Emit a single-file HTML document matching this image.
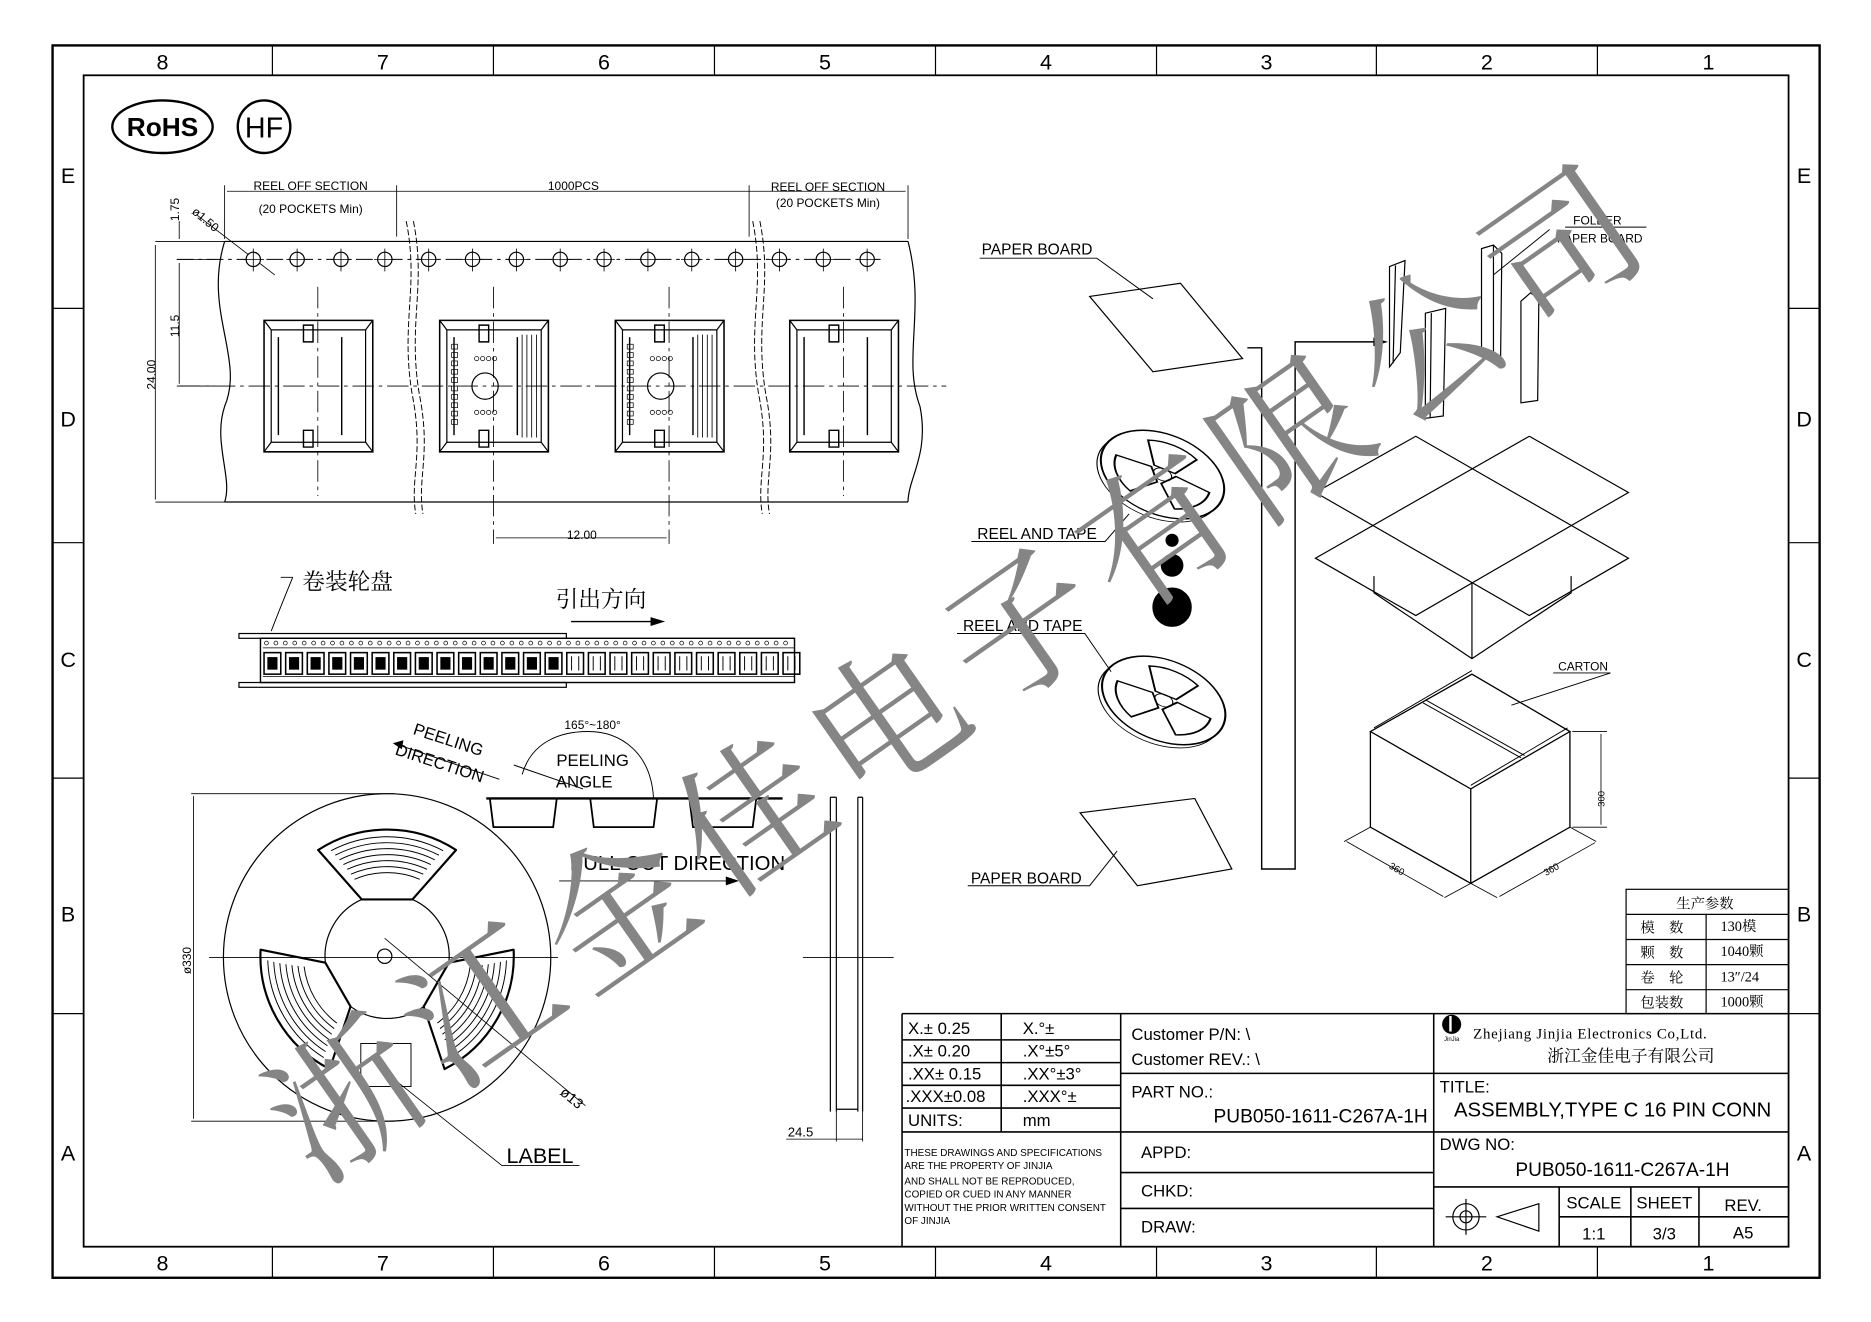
<!DOCTYPE html>
<html><head><meta charset="utf-8"><style>
html,body{margin:0;padding:0;background:#fff}
svg{display:block}
text{font-family:"Liberation Sans","Noto Sans CJK SC",sans-serif;fill:#000}
.cn{font-family:"Liberation Serif","Noto Serif CJK SC",serif}
text.wm{fill:#858585;font-family:"Noto Serif CJK SC","Noto Sans CJK SC",serif;font-weight:400}
</style></head><body>
<svg id="s" width="1871" height="1322" viewBox="0 0 1566 1106" preserveAspectRatio="none" xmlns="http://www.w3.org/2000/svg">
<g fill="none" stroke="#000" stroke-width="1">
<rect x="44" y="38" width="1479" height="1031" stroke-width="2"/>
<rect x="70" y="63" width="1427" height="980" stroke-width="1.5"/>
<g id="divs"></g>
<ellipse cx="136" cy="106" rx="42" ry="22" stroke-width="2"/>
<circle cx="221" cy="106" r="22" stroke-width="2"/>

<path d="M188,202 H760 M188,420 H760"/>
<path d="M188,202 C170,260 205,300 188,340 C178,370 195,400 188,420"/>
<path d="M760,202 C775,260 755,300 770,340 C778,380 760,400 760,420"/>
<path d="M130,202 H188 M130,420 H188 M148,217 H180 M148,323 H180" stroke-width="0.7"/>
<path d="M130,205 V418 M150,220 V321 M150,185 V200" stroke-width="0.7"/>
<path d="M188,155 V200 M332,155 V198 M627,155 V198 M760,155 V200 M190,160 H758" stroke-width="0.7"/>
<path d="M148,217 H740" stroke-dasharray="14,4,3,4" stroke-width="0.8"/>
<path d="M150,323 H792" stroke-dasharray="18,4,3,4" stroke-width="0.8"/>
<path d="M266,240 V415 M413,240 V455 M560,240 V455 M706,240 V415" stroke-dasharray="18,4,3,4" stroke-width="0.7"/>
<path d="M415,450 H558" stroke-width="0.7"/>
<path d="M165,180 L230,230" stroke-width="0.7"/>
<g id="holes"></g>
<g id="comps"></g>
<g stroke-width="0.8">
<path d="M340,185 C351,240 335,270 345,330 C355,380 343,400 348,430" stroke-dasharray="5,2"/>
<path d="M346,185 C357,240 341,270 351,330 C361,380 349,400 354,430" stroke-dasharray="5,2"/>
<path d="M630,185 C641,240 625,270 635,330 C645,380 633,400 638,430" stroke-dasharray="5,2"/>
<path d="M636,185 C647,240 631,270 641,330 C651,380 639,400 644,430" stroke-dasharray="5,2"/>
</g>

<rect x="200" y="530" width="274" height="4"/>
<rect x="200" y="571" width="274" height="4"/>
<rect x="218" y="534" width="447" height="37" stroke-width="1.2"/>
<path d="M220,542 H665 M220,566 H665" stroke-width="0.6"/>
<g id="strip"></g>
<path d="M235,483 H245 M245,483 C238,500 232,515 227,528" stroke-width="0.8"/>
<path d="M478,520 H545" stroke-width="1.2"/>
<path d="M545,517 L555,520 L545,523 Z" fill="#000"/>

<path d="M330,622 L418,652" stroke-width="0.8"/>
<path d="M330,622 L337,620 L336,626 Z" fill="#000"/>
<path d="M430,640 L488,660" stroke-width="0.8"/>
<path d="M437,648 C445,620 470,612 492,612 C520,612 545,630 547,668" stroke-width="0.8"/>
<path d="M407,668 H655" stroke-width="2"/>
<path d="M410,668 L413,692 H463 L466,668 M494,668 L497,692 H547 L550,668 M577,668 L580,692 H630 L633,668" stroke-width="1.5"/>
<path d="M468,737 H615" stroke-width="0.8"/>
<path d="M608,734 L617,737 L608,740 Z" fill="#000"/>

<circle cx="324" cy="801" r="137"/>
<path d="M160,664 H330 M160,938 H330 M162,666 V936" stroke-width="0.7"/>
<path d="M175,801 H467" stroke-width="0.7"/>
<g id="reel"></g>
<rect x="302" y="873" width="42" height="36" stroke-width="0.8"/>
<path d="M322,785 L490,925 M320,895 L420,975 H485" stroke-width="0.7"/>
<circle cx="322" cy="800" r="6"/>
<path d="M695,667 V930 M700,667 V930 M718,667 V930 M722,667 V930 M695,667 H700 M718,667 H722 M700,928 H718" stroke-width="1"/>
<path d="M672,801 H748" stroke-width="0.7"/>
<path d="M658,953 H722 M700,930 V955 M722,930 V955" stroke-width="0.7"/>

<polygon points="912,248 988,237 1040,300 965,311"/>
<path d="M820,216 H918 L965,250" stroke-width="0.8"/>
<g id="reels3d"></g>
<circle cx="981" cy="452" r="5" fill="#000"/>
<circle cx="981" cy="473" r="9" fill="#000"/>
<circle cx="981" cy="508" r="16" fill="#000"/>
<path d="M813,453 H925 L945,430" stroke-width="0.8"/>
<path d="M801,530 H908 L930,562" stroke-width="0.8"/>
<polygon points="904,680 1000,668 1031,727 952,741"/>
<path d="M810,741 H912 L935,712" stroke-width="0.8"/>
<path d="M1044,291 H1056 V727 H1084 V286 H1155" stroke-width="1.2"/>
<path d="M1150,283 L1160,286 L1150,289 Z" fill="#000"/>
<polygon points="1163,223 1176,218 1172,295 1163,307"/>
<path d="M1168,222 L1166,304"/>
<polygon points="1193,262 1210,258 1208,348 1193,350"/>
<path d="M1198,262 L1197,349"/>
<polygon points="1240,208 1250,205 1257,212 1256,298 1240,292"/>
<path d="M1250,205 L1250,296"/>
<polygon points="1273,252 1281,245 1288,250 1287,335 1273,337"/>
<path d="M1310,190 H1378 M1297,192 L1250,230" stroke-width="0.8"/>
<path d="M1101,412 L1185,365 L1363,467 L1280,515 L1101,412 M1280,365 L1363,412 L1185,515 L1101,467 L1280,365" stroke-width="1"/>
<path d="M1150,482 V496 L1232,551 L1315,496 V482 M1232,488 V551" stroke-width="1"/>
<path d="M1147,612 L1232,564 L1314,612 L1231,660 Z M1147,612 V692 L1231,739 L1314,692 V612 M1231,660 V739" stroke-width="1.1"/>
<path d="M1191,588 L1273,634 M1194,586 L1276,632 M1231,657 L1312,609 M1150,609 L1232,561" stroke-width="0.8"/>
<path d="M1300,563 H1348 L1265,590" stroke-width="0.8"/>
<path d="M1316,612 H1345 M1316,692 H1345 M1340,614 V690 M1147,692 L1125,704 M1231,739 L1209,751 M1127,704 L1208,750 M1231,739 L1253,751 M1314,692 L1336,704 M1255,750 L1335,705" stroke-width="0.7"/>

<rect x="1361" y="744" width="136" height="104"/>
<path d="M1361,765 H1497 M1361,786 H1497 M1361,807 H1497 M1361,828 H1497 M1428,765 V848"/>

<g stroke-width="1.3">
<path d="M755,848 H1497 M755,848 V1043 M838,848 V947 M938,848 V1043 M1200,848 V1043"/>
<path d="M755,870 H938 M755,889 H938 M755,908 H938 M755,927 H938 M755,947 H1497 M938,898 H1497 M938,981 H1200 M938,1011 H1200 M1200,993 H1497 M1305,993 V1043 M1365,993 V1043 M1422,993 V1043 M1305,1018 H1497"/>
</g>
<circle cx="1227" cy="1018" r="11"/><circle cx="1227" cy="1018" r="5"/>
<path d="M1210,1018 H1244 M1227,1003 V1033 M1253,1018 L1288,1007 V1030 Z"/>
</g>

<text x="136" y="114" font-size="22" font-weight="bold" text-anchor="middle">RoHS</text>
<text x="221" y="115" font-size="24" text-anchor="middle">HF</text>
<g font-size="10">
<text x="260" y="159" text-anchor="middle">REEL  OFF  SECTION</text>
<text x="260" y="178" text-anchor="middle">(20  POCKETS  Min)</text>
<text x="480" y="159" text-anchor="middle">1000PCS</text>
<text x="693" y="160" text-anchor="middle">REEL  OFF  SECTION</text>
<text x="693" y="173" text-anchor="middle">(20  POCKETS  Min)</text>
<text x="487" y="451" text-anchor="middle">12.00</text>
<text transform="translate(150,185) rotate(-90)">1.75</text>
<text transform="translate(150,282) rotate(-90)">11.5</text>
<text transform="translate(130,326) rotate(-90)">24.00</text>
<text transform="translate(160,178) rotate(40)">ø1.50</text>
<text transform="translate(160,815) rotate(-90)">ø330</text>
<text transform="translate(468,915) rotate(40)" font-size="12">ø13</text>
<text x="670" y="951" font-size="11" text-anchor="middle">24.5</text>
<text x="1325" y="561" text-anchor="middle">CARTON</text>
<text x="1337" y="188" text-anchor="middle">FOLDER</text>
<text x="1339" y="203" text-anchor="middle">PAPER  BOARD</text>
<text transform="translate(1343,675) rotate(-90)" font-size="8">300</text>
<text transform="translate(1162,726) rotate(30)" font-size="8">360</text>
<text transform="translate(1294,733) rotate(-30)" font-size="8">360</text>
</g>
<g font-size="13">
<text x="868" y="213" text-anchor="middle">PAPER  BOARD</text>
<text x="868" y="451" text-anchor="middle">REEL  AND  TAPE</text>
<text x="856" y="528" text-anchor="middle">REEL  AND  TAPE</text>
<text x="859" y="739" text-anchor="middle">PAPER  BOARD</text>
<text x="567" y="728" font-size="17" text-anchor="middle">PULL  OUT  DIRECTION</text>
<text x="496" y="641" font-size="14" text-anchor="middle">PEELING</text>
<text x="489" y="659" font-size="14" text-anchor="middle">ANGLE</text>
<text transform="translate(345,614) rotate(18)" font-size="14">PEELING</text>
<text transform="translate(330,631) rotate(18)" font-size="14">DIRECTION</text>
<text x="496" y="610" font-size="10" text-anchor="middle">165°~180°</text>
<text x="452" y="973" font-size="18" text-anchor="middle">LABEL</text>
</g>
<text x="253" y="493" font-size="19" class="cn">卷装轮盘</text>
<text x="465" y="508" font-size="19" class="cn">引出方向</text>

<g font-size="14">
<text x="760" y="865">X.± 0.25</text><text x="856" y="865">X.°±</text>
<text x="760" y="884">.X± 0.20</text><text x="856" y="884">.X°±5°</text>
<text x="760" y="903">.XX± 0.15</text><text x="856" y="903">.XX°±3°</text>
<text x="758" y="922">.XXX±0.08</text><text x="856" y="922">.XXX°±</text>
<text x="760" y="942">UNITS:</text><text x="856" y="942">mm</text>
<text x="947" y="870">Customer P/N: \</text>
<text x="947" y="891">Customer REV.: \</text>
<text x="947" y="918">PART NO.:</text>
<text x="1195" y="939" font-size="16" text-anchor="end">PUB050-1611-C267A-1H</text>
<text x="955" y="969">APPD:</text>
<text x="955" y="1001">CHKD:</text>
<text x="955" y="1031">DRAW:</text>
<text x="1205" y="914">TITLE:</text>
<text x="1217" y="934" font-size="17">ASSEMBLY,TYPE C 16 PIN CONN</text>
<text x="1205" y="962">DWG NO:</text>
<text x="1358" y="984" font-size="16" text-anchor="middle">PUB050-1611-C267A-1H</text>
<text x="1334" y="1011" text-anchor="middle">SCALE</text>
<text x="1393" y="1011" text-anchor="middle">SHEET</text>
<text x="1459" y="1013" text-anchor="middle">REV.</text>
<text x="1334" y="1037" text-anchor="middle">1:1</text>
<text x="1393" y="1037" text-anchor="middle">3/3</text>
<text x="1459" y="1036" text-anchor="middle">A5</text>
</g>
<g font-size="8.3">
<text x="757" y="967">THESE DRAWINGS AND SPECIFICATIONS</text>
<text x="757" y="978">ARE THE PROPERTY OF JINJIA</text>
<text x="757" y="991">AND SHALL NOT BE REPRODUCED,</text>
<text x="757" y="1002">COPIED OR CUED IN ANY MANNER</text>
<text x="757" y="1013">WITHOUT THE PRIOR WRITTEN CONSENT</text>
<text x="757" y="1024">OF JINJIA</text>
</g>
<circle cx="1215" cy="857" r="8" fill="#000"/><rect x="1213" y="850" width="2" height="13" fill="#fff"/>
<text x="1215" y="871" font-size="5" text-anchor="middle">JinJia</text>
<text x="1233" y="869" font-size="12.5" style="font-family:'Liberation Serif','Noto Serif CJK SC',serif;letter-spacing:0.6px">Zhejiang Jinjia Electronics Co,Ltd.</text>
<text x="1365" y="888" font-size="14" class="cn" text-anchor="middle">浙江金佳电子有限公司</text>
<g font-size="12">
<text x="1427" y="760" text-anchor="middle" class="cn">生产参数</text>
<text x="1373" y="780" class="cn">模　数</text><text x="1440" y="779" class="cn">130模</text>
<text x="1373" y="801" class="cn">颗　数</text><text x="1440" y="800" class="cn">1040颗</text>
<text x="1373" y="822" class="cn">卷　轮</text><text x="1440" y="821" class="cn">13″/24</text>
<text x="1373" y="843" class="cn">包装数</text><text x="1440" y="842" class="cn">1000颗</text>
</g>
<g id="labels" font-size="18"></g>
<g id="wm"></g>
</svg>
<script>
var NS="http://www.w3.org/2000/svg";
function el(p,t,a,txt){var e=document.createElementNS(NS,t);for(var k in a)e.setAttribute(k,a[k]);if(txt)e.textContent=txt;document.getElementById(p).appendChild(e);return e;}
var xs=[44,228,413,598,783,968,1152,1337,1523];
for(var i=1;i<8;i++){el("divs","path",{d:"M"+xs[i]+",38 V63 M"+xs[i]+",1043 V1069"});}
for(var i=0;i<8;i++){var cx=(xs[i]+xs[i+1])/2;el("labels","text",{x:cx,y:58,"text-anchor":"middle"},String(8-i));el("labels","text",{x:cx,y:1063,"text-anchor":"middle"},String(8-i));}
var ys=[63,258,454,651,848,1043],L=["E","D","C","B","A"];
for(var i=1;i<5;i++){el("divs","path",{d:"M44,"+ys[i]+" H70 M1497,"+ys[i]+" H1523"});}
var ly=[153,357,558,771,971];
for(var i=0;i<5;i++){el("labels","text",{x:57,y:ly[i],"text-anchor":"middle"},L[i]);el("labels","text",{x:1510,y:ly[i],"text-anchor":"middle"},L[i]);}
for(var i=0;i<15;i++){var x=212+i*36.7;el("holes","circle",{cx:x,cy:217,r:6,fill:"#fff"});el("holes","path",{d:"M"+x+",208 V227 M"+(x-9)+",217 H"+(x+9),"stroke-width":"0.7"});}
[266,413,560,706].forEach(function(c,i){var g="comps";var x0=c-45,x1=c+46;
el(g,"path",{d:"M"+x0+",268 H"+x1+" V378 H"+x0+" Z","stroke-width":"1.3"});
el(g,"path",{d:"M"+(x0+6)+",276 H"+(x1-6)+" V370 H"+(x0+6)+" Z M"+x0+",268 L"+(x0+6)+",276 M"+x1+",268 L"+(x1-6)+",276 M"+x0+",378 L"+(x0+6)+",370 M"+x1+",378 L"+(x1-6)+",370","stroke-width":"1"});
el(g,"path",{d:"M"+(x0+12)+",282 V364 M"+(x1-26)+",282 V364 M"+(c-12)+",272 h8 v14 h-8 Z M"+(c-12)+",360 h8 v14 h-8 Z","stroke-width":"1.2"});
if(i==1||i==2){el(g,"circle",{cx:c-7,cy:323,r:11});for(var k=0;k<4;k++){el(g,"circle",{cx:c-14+k*5,cy:300,r:1.8,"stroke-width":"0.6"});el(g,"circle",{cx:c-14+k*5,cy:345,r:1.8,"stroke-width":"0.6"});}
for(var k=0;k<4;k++)el(g,"path",{d:"M"+(x1-22+k*4)+",280 V366","stroke-width":"0.7"});
for(var k=0;k<10;k++)el(g,"rect",{x:x0+10,y:288+k*7,width:5,height:4,"stroke-width":"0.6"});}
});
for(var i=0;i<56;i++)el("strip","circle",{cx:223+i*7.9,cy:538,r:1.6,"stroke-width":"0.6"});
for(var i=0;i<25;i++){var x=221+i*18.1;el("strip","rect",{x:x,y:546,width:14,height:18,"stroke-width":"1.3"});
if(i<14)el("strip","rect",{x:x+3,y:550,width:8,height:10,fill:"#000","stroke-width":"0.5"});else el("strip","path",{d:"M"+(x+4)+",549 V561 M"+(x+10)+",549 V561","stroke-width":"0.8"});}
function pt(r,a){return (324+r*Math.cos(a)).toFixed(1)+","+(800+r*Math.sin(a)).toFixed(1);}
var ri=52,ro=106;
[-90,30,150].forEach(function(deg){var a=deg*Math.PI/180,wo=33*Math.PI/180,wi=24*Math.PI/180;
el("reel","path",{d:"M"+pt(ro,a-wo)+" A"+ro+","+ro+" 0 0 1 "+pt(ro,a+wo)+" L"+pt(ri,a+wi)+" L"+pt(ri,a-wi)+" Z","stroke-width":"1.8","stroke-linejoin":"round"});
for(var r=ri+18;r<ro-2;r+=5){var w=wi+(wo-wi)*(r-ri)/(ro-ri)-0.07;el("reel","path",{d:"M"+pt(r,a-w)+" A"+r+","+r+" 0 0 1 "+pt(r,a+w),"stroke-width":"0.8"});}
var b=a+wi,e=a+2*Math.PI/3-wi;
el("reel","path",{d:"M"+pt(ri,b)+" A"+ri+","+ri+" 0 0 1 "+pt(ri,e),"stroke-width":"1"});
});
[[973,397],[974,586]].forEach(function(c){var g=el("reels3d","g",{transform:"translate("+c[0]+","+c[1]+") rotate(22) scale(1,0.62)"});
function a(t,at){var e=document.createElementNS(NS,t);for(var k in at)e.setAttribute(k,at[k]);g.appendChild(e);}
a("circle",{cx:-2,cy:6,r:54});a("circle",{cx:0,cy:0,r:54,fill:"#fff","stroke-width":"1.8"});
a("circle",{cx:0,cy:0,r:8});
[-90,30,150].forEach(function(d){var r=d*Math.PI/180,w=0.55;function P(R,t){return (R*Math.cos(t)).toFixed(1)+","+(R*Math.sin(t)).toFixed(1);}
a("path",{d:"M"+P(42,r-w)+" A42,42 0 0 1 "+P(42,r+w)+" L"+P(12,r+0.9)+" L"+P(12,r-0.9)+" Z","stroke-width":"1.8"});});
});
var s="浙江金佳电子有限公司";
for(var i=0;i<10;i++){var x=285+i*113,y=912-i*79;
el("wm","text",{"class":"wm",x:x,y:y,"font-size":"125","text-anchor":"middle","dominant-baseline":"central","transform":"rotate(-35 "+x+" "+y+")"},s[i]);}
</script>
</body></html>
